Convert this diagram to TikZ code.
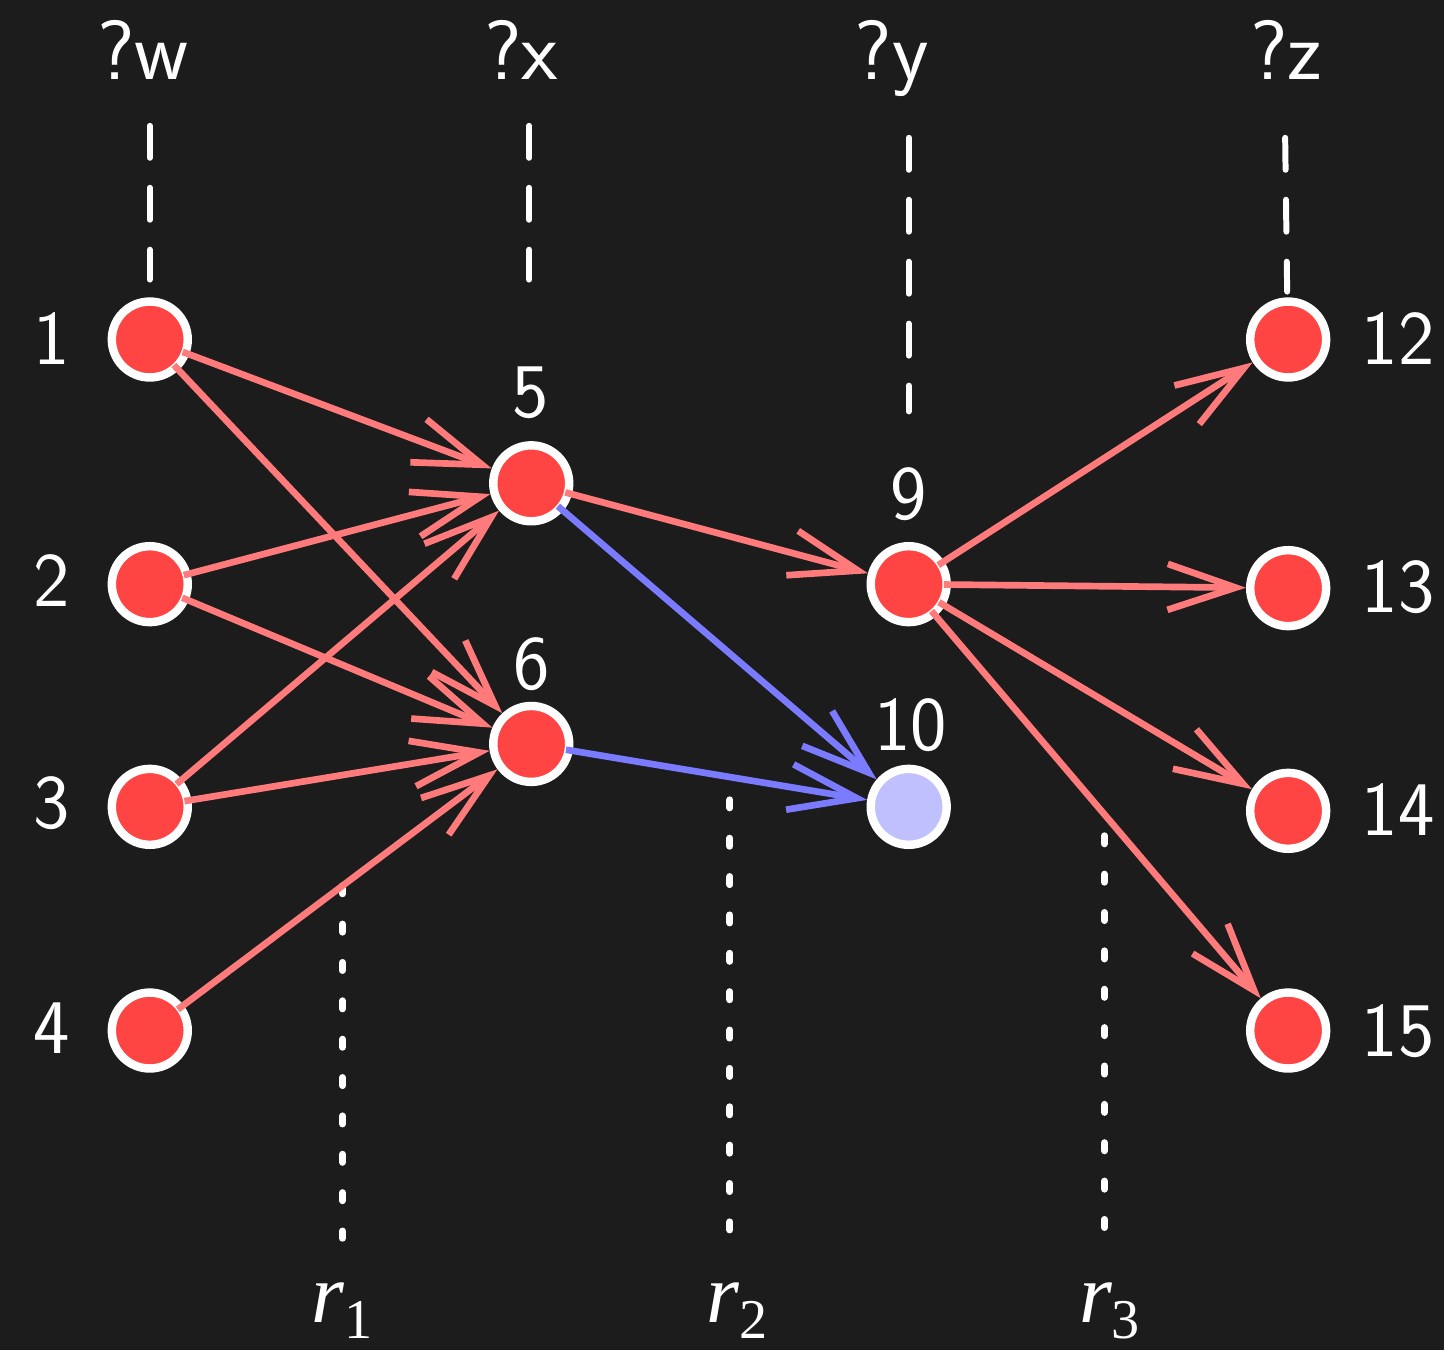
\documentclass[tikz,border=0pt]{standalone}
\usepackage{fontspec}
\usetikzlibrary{arrows.meta}
\newfontfamily\rfont{Liberation Serif}
\newcommand{\rcut}[1]{{\rfont\itshape r}\raisebox{-0.16cm}{\rfont\fontsize{16}{18}\selectfont #1}}
\definecolor{bgdark}{HTML}{1C1C1C}
\definecolor{nodered}{HTML}{FF4444}
\definecolor{nodelav}{HTML}{C0C0FF}
\definecolor{edgered}{HTML}{FF7B7B}
\definecolor{edgeblue}{HTML}{7B7BFF}
\begin{document}
\begin{tikzpicture}[x=0.01cm, y=-0.01cm,
    vert/.style={circle, draw=white, line width=2.4pt, fill=nodered,
      minimum size=0.76cm, inner sep=0pt},
    lbl/.style={text=white, anchor=base, font=\sffamily\fontsize{22}{26}\selectfont},
    var/.style={text=white, anchor=base, font=\sffamily\fontsize{24}{28}\selectfont},
    rlbl/.style={text=white, anchor=base west, inner sep=0pt,
      font=\fontsize{24}{28}\selectfont},
    flow/.style={draw=edgered, line width=1.9pt, shorten <=-2pt,
      -{Straight Barb[length=0.68cm, width=0.46cm]}},
    guide/.style={draw=white, line width=1.7pt, line cap=round,
      dash pattern=on 0.32cm off 0.30cm},
    cut/.style={draw=white, line width=2pt, line cap=round,
      dash pattern=on 0.08cm off 0.304cm}]
  % Background
  \fill[bgdark] (0,0) rectangle (1446,1352);

  % Define node positions
  \node[vert] (n1) at (150,340) {}; \node[vert] (n2) at (150,585) {};
  \node[vert] (n3) at (150,808) {}; \node[vert] (n4) at (150,1032) {};
  \node[vert] (n5) at (532,484) {}; \node[vert] (n6) at (532,745) {};
  \node[vert] (n9) at (910,585) {}; \node[vert, fill=nodelav] (n10) at (910,808) {};
  \node[vert] (n12) at (1290,340) {}; \node[vert] (n13) at (1290,589) {};
  \node[vert] (n14) at (1290,812) {}; \node[vert] (n15) at (1290,1032) {};

  % Node labels
  \node[lbl] (l1) at (52,365) {1}; \node[lbl] (l2) at (52,607) {2};
  \node[lbl] (l3) at (52,830) {3}; \node[lbl] (l4) at (52,1055) {4};
  \node[lbl] (l5) at (531,418) {5}; \node[lbl] (l6) at (532,690) {6};
  \node[lbl] (l9) at (910,520) {9}; \node[lbl] (l10) at (912,752) {10};
  \node[lbl] (l12) at (1400,365) {12}; \node[lbl] (l13) at (1400,613) {13};
  \node[lbl] (l14) at (1400,837) {14}; \node[lbl] (l15) at (1400,1058) {15};

  % Variables on top
  \node[var] (vw) at (143,80) {?w}; \node[var] (vx) at (522,80) {?x};
  \node[var] (vy) at (893,80) {?y}; \node[var] (vz) at (1288,80) {?z};

  % Dashed guides
  \coordinate (wa) at (150,126); \coordinate (wb) at (150,280);
  \coordinate (xa) at (530,126); \coordinate (xb) at (530,280);
  \coordinate (ya) at (910,138); \coordinate (yb) at (910,412);
  \coordinate (za) at (1287,138); \coordinate (zb) at (1289,292);
  \draw[guide] (wa) -- (wb);
  \draw[guide] (xa) -- (xb);
  \draw[guide] (ya) -- (yb);
  \draw[guide] (za) -- (zb);

  % Dotted cuts
  \coordinate (ra) at (343,887); \coordinate (rb) at (343,1240);
  \coordinate (sa) at (731,801); \coordinate (sb) at (731,1240);
  \coordinate (ta) at (1106,837); \coordinate (tb) at (1106,1240);
  \draw[cut] (ra) -- (rb);
  \draw[cut] (sa) -- (sb);
  \draw[cut] (ta) -- (tb);
  \node[rlbl] (r1) at (311,1324) {\rcut{1}};
  \node[rlbl] (r2) at (707,1324) {\rcut{2}};
  \node[rlbl] (r3) at (1080,1324) {\rcut{3}};

  % Draw arrows
  \draw[flow] (n1) -- (n5);
  \draw[flow] (n1) -- (n6);
  \draw[flow] (n2) -- (n5);
  \draw[flow] (n2) -- (n6);
  \draw[flow] (n3) -- (n5);
  \draw[flow] (n3) -- (n6);
  \draw[flow] (n4) -- (n6);
  \draw[flow] (n5) -- (n9);
  \draw[flow, draw=edgeblue] (n5) -- (n10);
  \draw[flow, draw=edgeblue] (n6) -- (n10);
  \draw[flow] (n9) -- (n12);
  \draw[flow] (n9) -- (n13);
  \draw[flow] (n9) -- (n14);
  \draw[flow] (n9) -- (n15);
\end{tikzpicture}
\end{document}
